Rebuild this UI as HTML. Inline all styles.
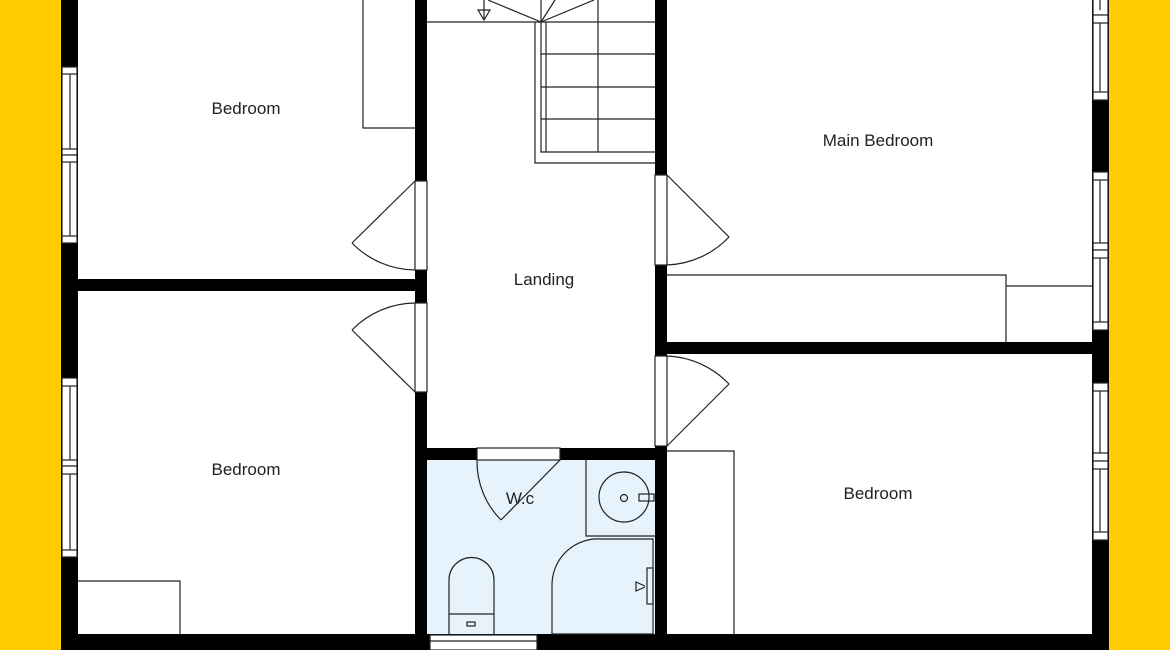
<!DOCTYPE html>
<html><head><meta charset="utf-8"><style>
html,body{margin:0;padding:0;background:#fff;}
svg{display:block;}
text{font-family:"Liberation Sans",sans-serif;font-size:17px;fill:#222;text-anchor:middle;}
</style></head><body>
<svg width="1170" height="650" viewBox="0 0 1170 650" xmlns="http://www.w3.org/2000/svg">
<rect x="0" y="0" width="1170" height="650" fill="#fff"/>
<rect x="0" y="0" width="61" height="650" fill="#ffcc00"/>
<rect x="1109" y="0" width="61" height="650" fill="#ffcc00"/>
<!-- WC fill -->
<rect x="427" y="460" width="228" height="174" fill="#e6f3fc"/>
<g fill="#000">
<!-- left outer wall -->
<rect x="61" y="0" width="17" height="650"/>
<!-- right outer wall -->
<rect x="1092" y="0" width="17" height="650"/>
<!-- bottom wall -->
<rect x="61" y="634" width="1048" height="16"/>
<!-- left horizontal -->
<rect x="78" y="279" width="349" height="12"/>
<!-- landing left wall -->
<rect x="415" y="0" width="12" height="634"/>
<!-- landing right wall -->
<rect x="655" y="0" width="12" height="634"/>
<!-- right horizontal -->
<rect x="655" y="342" width="437" height="12"/>
<!-- WC top wall -->
<rect x="415" y="448" width="252" height="12"/>
</g>
<g fill="#fff" stroke="#222" stroke-width="1.2">
<!-- left windows -->
<rect x="62" y="67" width="15" height="88"/><rect x="62" y="155" width="15" height="88"/>
<line x1="62" y1="74" x2="77" y2="74"/><line x1="62" y1="149" x2="77" y2="149"/><line x1="62" y1="162" x2="77" y2="162"/><line x1="62" y1="236" x2="77" y2="236"/>
<line x1="70" y1="74" x2="70" y2="149"/><line x1="70" y1="162" x2="70" y2="236"/>
<rect x="62" y="378" width="15" height="88"/><rect x="62" y="466" width="15" height="91"/>
<line x1="62" y1="386" x2="77" y2="386"/><line x1="62" y1="460" x2="77" y2="460"/><line x1="62" y1="474" x2="77" y2="474"/><line x1="62" y1="550" x2="77" y2="550"/>
<line x1="70" y1="386" x2="70" y2="460"/><line x1="70" y1="474" x2="70" y2="550"/>
<!-- right windows -->
<rect x="1093" y="-2" width="15" height="17"/><rect x="1093" y="15" width="15" height="85"/>
<line x1="1093" y1="23" x2="1108" y2="23"/><line x1="1093" y1="92" x2="1108" y2="92"/><line x1="1100" y1="0" x2="1100" y2="10"/><line x1="1100" y1="23" x2="1100" y2="92"/>
<rect x="1093" y="172" width="15" height="78"/><rect x="1093" y="250" width="15" height="80"/>
<line x1="1093" y1="180" x2="1108" y2="180"/><line x1="1093" y1="243" x2="1108" y2="243"/><line x1="1093" y1="258" x2="1108" y2="258"/><line x1="1093" y1="322" x2="1108" y2="322"/>
<line x1="1100" y1="180" x2="1100" y2="243"/><line x1="1100" y1="258" x2="1100" y2="322"/>
<rect x="1093" y="383" width="15" height="78"/><rect x="1093" y="461" width="15" height="79"/>
<line x1="1093" y1="391" x2="1108" y2="391"/><line x1="1093" y1="453" x2="1108" y2="453"/><line x1="1093" y1="469" x2="1108" y2="469"/><line x1="1093" y1="532" x2="1108" y2="532"/>
<line x1="1100" y1="391" x2="1100" y2="453"/><line x1="1100" y1="469" x2="1100" y2="532"/>
<!-- door openings in walls -->
<rect x="415" y="181" width="12" height="89"/>
<rect x="415" y="303" width="12" height="89"/>
<rect x="655" y="175" width="12" height="90"/>
<rect x="655" y="356" width="12" height="90"/>
<rect x="477" y="448" width="83" height="12"/>
<rect x="430" y="635" width="107" height="15"/>
</g>
<g fill="none" stroke="#222" stroke-width="1.2">
<line x1="430" y1="641" x2="537" y2="641"/>
<!-- doors -->
<line x1="415" y1="181" x2="352" y2="243"/><path d="M352 243 A89 89 0 0 0 415 270"/>
<line x1="415" y1="392" x2="352" y2="330"/><path d="M352 330 A89 89 0 0 1 415 303"/>
<line x1="667" y1="175" x2="729" y2="237"/><path d="M729 237 A90 90 0 0 1 667 265"/>
<line x1="667" y1="446" x2="729" y2="384"/><path d="M729 384 A90 90 0 0 0 667 356"/>
<line x1="560" y1="460" x2="501" y2="520"/><path d="M477 460 A83 83 0 0 0 501 520"/>
<!-- wardrobes -->
<polyline points="363,0 363,128 415,128"/>
<polyline points="78,581 180,581 180,634"/>
<polyline points="667,275 1006,275 1006,342"/>
<polyline points="1006,286 1092,286"/>
<polyline points="667,451 734,451 734,634"/>
<!-- stairs -->
<line x1="427" y1="22" x2="655" y2="22"/>
<polyline points="535,22 535,163 655,163"/>
<polyline points="541,22 541,152 655,152"/>
<line x1="546" y1="22" x2="546" y2="152"/>
<line x1="598" y1="0" x2="598" y2="152"/>
<line x1="541" y1="54" x2="655" y2="54"/>
<line x1="541" y1="87" x2="655" y2="87"/>
<line x1="541" y1="119" x2="655" y2="119"/>
<line x1="541" y1="22" x2="488" y2="0"/>
<line x1="541" y1="22" x2="541" y2="0"/>
<line x1="541" y1="22" x2="555" y2="0"/>
<line x1="541" y1="22" x2="594" y2="0"/>
<line x1="484" y1="0" x2="484" y2="20"/>
<polygon points="478,10 490,10 484,20"/>
<!-- WC fixtures -->
<polyline points="586,460 586,536 655,536"/>
<circle cx="624" cy="497" r="25"/>
<circle cx="624" cy="498" r="3.5"/>
<rect x="639" y="494" width="15" height="7"/>
<path d="M552 634 L552 585 A46 46 0 0 1 601 539 L653 539 L653 634 Z"/>
<rect x="647" y="568" width="6" height="36"/>
<path d="M645 586 L636 582 L636 591 L645 587"/>
<path d="M449 634 L449 580 A22.5 22.5 0 0 1 494 580 L494 634"/>
<line x1="449" y1="614" x2="494" y2="614"/>
<rect x="467" y="622" width="8" height="4"/>
</g>
<text x="246" y="114">Bedroom</text>
<text x="878" y="146">Main Bedroom</text>
<text x="544" y="285">Landing</text>
<text x="246" y="475">Bedroom</text>
<text x="878" y="499">Bedroom</text>
<text x="520" y="504">W.c</text>
</svg>
</body></html>
